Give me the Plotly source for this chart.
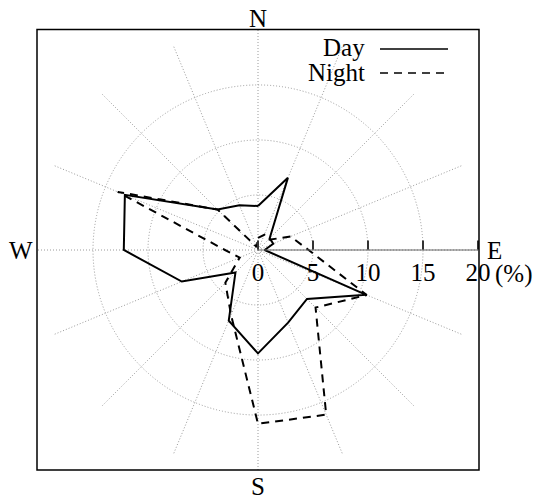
import plotly.graph_objects as go

W, H = 545, 498

directions = ["N", "NNE", "NE", "ENE", "E", "ESE", "SE", "SSE",
              "S", "SSW", "SW", "WSW", "W", "WNW", "NW", "NNW"]
day = [4.0, 7.1, 1.5, 1.5, 0.6, 10.65, 6.3, 7.15,
       9.4, 6.95, 2.9, 7.5, 12.2, 13.1, 5.2, 4.4]
night = [1.1, 1.5, 1.3, 3.2, 4.6, 10.7, 7.4, 16.2,
         15.8, 6.4, 4.2, 1.8, 3.0, 13.8, 5.2, 0.3]
radial_ticks = [0, 5, 10, 15, 20]
radial_labels = ["0", "5", "10", "15", "20"]
compass_labels = ["N", "E", "S", "W"]

FONT = "Liberation Serif, Times New Roman, serif"
FS = 25


def px(x):
    return x / W


def py(y):
    return 1 - y / H


fig = go.Figure()
fig.add_trace(go.Scatterpolar(
    r=day + day[:1], theta=directions + directions[:1], mode="lines",
    line=dict(color="black", width=2), name="Day"))
fig.add_trace(go.Scatterpolar(
    r=night + night[:1], theta=directions + directions[:1], mode="lines",
    line=dict(color="black", width=2, dash="8px,6px"), name="Night"))

fig.update_layout(
    width=W, height=H,
    margin=dict(l=0, r=0, t=0, b=0),
    paper_bgcolor="white",
    showlegend=False,
    font=dict(family=FONT, size=FS, color="black"),
    polar=dict(
        domain=dict(x=[px(38), px(478)], y=[py(470), py(30)]),
        bgcolor="white",
        angularaxis=dict(
            type="category", categoryarray=directions,
            direction="clockwise", rotation=90,
            showticklabels=False, ticks="",
            showline=False,
            showgrid=True, gridcolor="#9a9a9a", gridwidth=1, griddash="1px,2px",
        ),
        radialaxis=dict(
            range=[0, 20], angle=0, side="clockwise",
            tickvals=radial_ticks, ticktext=radial_labels,
            ticks="inside", ticklen=9, tickcolor="#333", tickwidth=1.5,
            showline=True, linecolor="#666", linewidth=1,
            showgrid=True, gridcolor="#9a9a9a", gridwidth=1, griddash="1px,2px",
            tickfont=dict(family=FONT, size=FS, color="black"),
            tickangle=0, layer="above traces",
        ),
    ),
)

# frame
fig.add_shape(type="rect", xref="paper", yref="paper",
              x0=px(37), x1=px(479), y0=py(470), y1=py(29.5),
              line=dict(color="black", width=1.5), layer="above")

# compass annotations
compass_pos = {"N": (258, 18), "E": (494, 250), "S": (258, 486), "W": (21, 250)}
for lab in compass_labels:
    x, y = compass_pos[lab]
    fig.add_annotation(x=px(x), y=py(y), xref="paper", yref="paper",
                       text=lab, showarrow=False,
                       font=dict(family=FONT, size=FS, color="black"),
                       xanchor="center", yanchor="middle")

fig.add_annotation(x=px(493), y=py(274), xref="paper", yref="paper",
                   text="(%)", showarrow=False, xanchor="left", yanchor="middle",
                   font=dict(family=FONT, size=FS, color="black"))

# legend (text on left, sample on right)
for name, y, dash in [("Day", 48, "solid"), ("Night", 72, "8px,6px")]:
    fig.add_annotation(x=px(367), y=py(y), xref="paper", yref="paper",
                       text=name, showarrow=False, xanchor="right", yanchor="middle",
                       font=dict(family=FONT, size=FS, color="black"))
    fig.add_shape(type="line", xref="paper", yref="paper",
                  x0=px(380), x1=px(448), y0=py(y + 1), y1=py(y + 1),
                  line=dict(color="black", width=1.5, dash=dash))

fig.write_html("out.html",
               config={"displayModeBar": False},
               post_script="document.body.style.margin='0';"
                           "document.body.style.padding='0';"
                           "document.documentElement.style.overflow='hidden';")
